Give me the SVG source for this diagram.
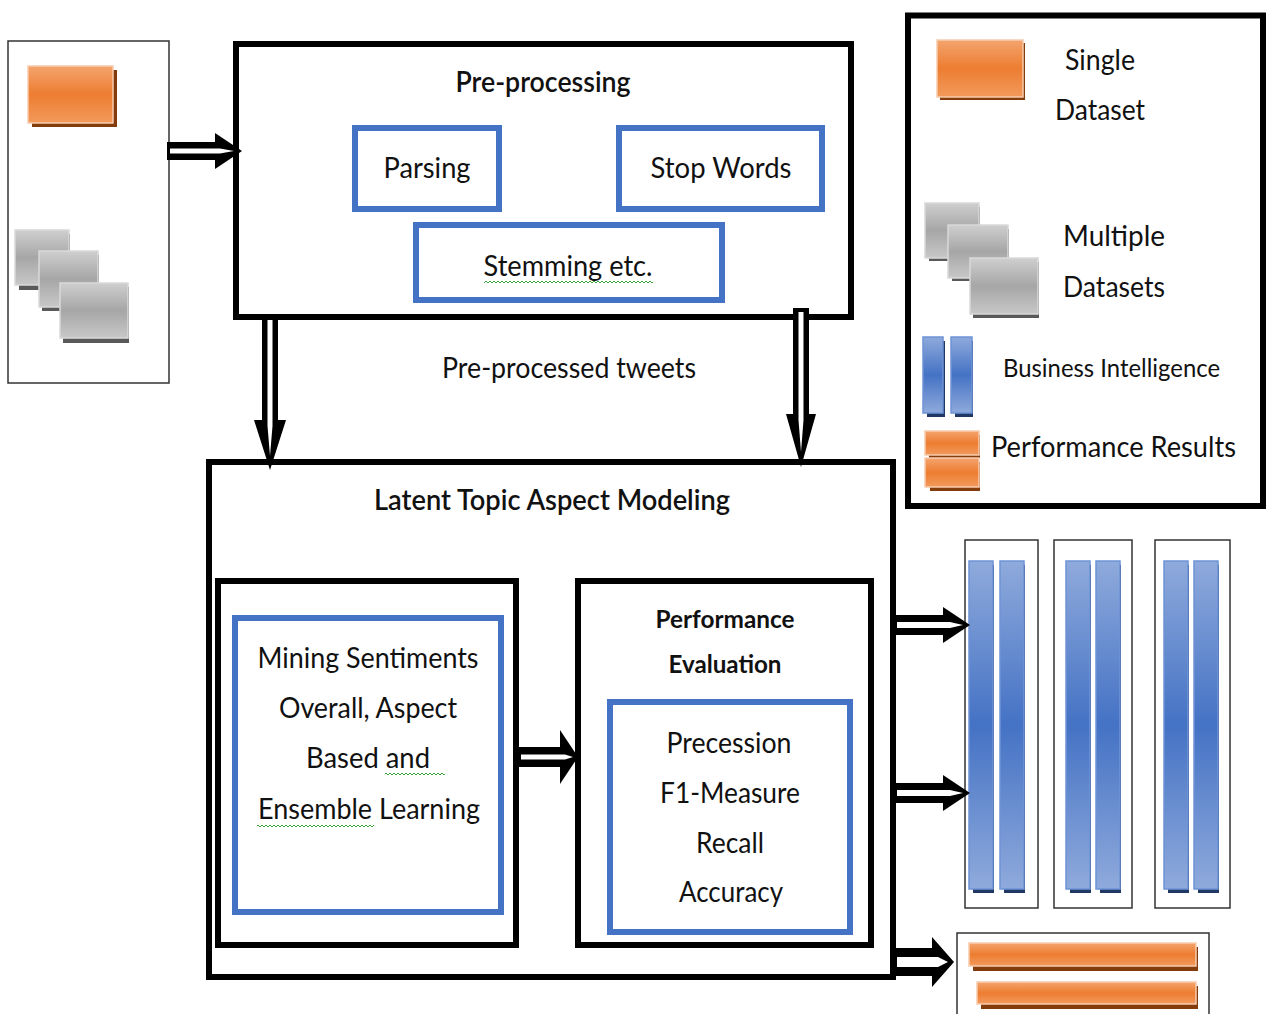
<svg xmlns="http://www.w3.org/2000/svg" width="1266" height="1014" viewBox="0 0 1266 1014">
<style>
  text { font-family: Lato, "Noto Sans", "Liberation Sans", sans-serif; fill: #111; }
  .t { font-size: 28px; text-anchor: middle; }
  .title { font-size: 28px; text-anchor: middle; font-weight: 600; }
  .bold { font-size: 25px; text-anchor: middle; font-weight: 700; }
  .leg { font-size: 29px; }
  .frame { fill: #fff; stroke: #000; stroke-width: 6; }
  .thin { fill: #fff; stroke: #333; stroke-width: 1.5; }
  .blue { fill: #fff; stroke: #4472C4; stroke-width: 6; }
  .or { fill: url(#gOr); stroke: #F8CBAD; stroke-width: 1.5; }
  .orS { fill: #843C0C; }
  .gr { fill: url(#gGr); stroke: #D9D9D9; stroke-width: 1.5; }
  .grS { fill: #595959; }
  .bl { fill: url(#gBl); stroke: #6E93D6; stroke-width: 1.5; }
  .blS { fill: #203864; }
  .ah { fill: #000; }
  .aw { fill: #fff; }
  .wave { fill: url(#wave); }
</style>
<defs>
  <linearGradient id="gOr" x1="0" y1="0" x2="0" y2="1">
    <stop offset="0" stop-color="#F4A46E"/>
    <stop offset="0.5" stop-color="#ED7D31"/>
    <stop offset="1" stop-color="#F29A5C"/>
  </linearGradient>
  <linearGradient id="gGr" x1="0" y1="0" x2="0" y2="1">
    <stop offset="0" stop-color="#CFCFCF"/>
    <stop offset="0.5" stop-color="#A6A6A6"/>
    <stop offset="1" stop-color="#C8C8C8"/>
  </linearGradient>
  <linearGradient id="gBl" x1="0" y1="0" x2="0" y2="1">
    <stop offset="0" stop-color="#8FAADC"/>
    <stop offset="0.5" stop-color="#4472C4"/>
    <stop offset="1" stop-color="#8FAADC"/>
  </linearGradient>
  <pattern id="wave" x="0" y="0" width="4" height="4" patternUnits="userSpaceOnUse">
    <path d="M0,3 L2,1 L4,3" fill="none" stroke="#3BA13B" stroke-width="1"/>
  </pattern>
</defs>
<rect width="1266" height="1014" fill="#fff"/>

<!-- Input datasets panel -->
<g id="input-datasets">
  <rect class="thin" x="8" y="41" width="161" height="342"/>
  <rect class="orS" x="32" y="70" width="85" height="57"/>
  <rect class="or" x="28" y="66" width="85" height="57"/>
  <rect class="grS" x="19" y="234" width="51" height="56"/>
  <rect class="gr" x="15" y="230" width="54" height="55"/>
  <rect class="grS" x="42" y="255" width="57" height="56"/>
  <rect class="gr" x="39" y="251" width="59" height="56"/>
  <rect class="grS" x="63" y="287" width="66" height="56"/>
  <rect class="gr" x="60" y="283" width="68" height="55"/>
</g>

<!-- Pre-processing -->
<g id="preprocessing">
  <rect class="frame" x="236" y="44" width="615" height="273"/>
  <text class="title" x="543" y="92" textLength="175" lengthAdjust="spacingAndGlyphs">Pre-processing</text>
</g>
<g id="parsing">
  <rect class="blue" x="355" y="128" width="144" height="81"/>
  <text class="t" x="427" y="178" textLength="87" lengthAdjust="spacingAndGlyphs">Parsing</text>
</g>
<g id="stop-words">
  <rect class="blue" x="619" y="128" width="203" height="81"/>
  <text class="t" x="721" y="178" textLength="141" lengthAdjust="spacingAndGlyphs">Stop Words</text>
</g>
<g id="stemming">
  <rect class="blue" x="416" y="225" width="306" height="75"/>
  <text class="t" x="568" y="276" textLength="169" lengthAdjust="spacingAndGlyphs">Stemming etc.</text>
  <rect class="wave" x="484" y="280" width="169" height="4"/>
</g>

<text id="label-preprocessed" class="t" x="569" y="378" textLength="254" lengthAdjust="spacingAndGlyphs">Pre-processed tweets</text>

<!-- Latent Topic Aspect Modeling -->
<g id="latent-topic">
  <rect class="frame" x="209" y="462" width="684" height="515"/>
  <text class="title" x="552" y="510" textLength="356" lengthAdjust="spacingAndGlyphs">Latent Topic Aspect Modeling</text>
</g>
<g id="mining">
  <rect class="frame" x="218" y="581" width="298" height="364"/>
  <rect class="blue" x="235" y="618" width="266" height="294"/>
  <text class="t" x="368" y="668" textLength="221" lengthAdjust="spacingAndGlyphs">Mining Sentiments</text>
  <text class="t" x="368" y="718" textLength="178" lengthAdjust="spacingAndGlyphs">Overall, Aspect</text>
  <text class="t" x="368" y="768" textLength="124" lengthAdjust="spacingAndGlyphs">Based and</text>
  <text class="t" x="369" y="819" textLength="222" lengthAdjust="spacingAndGlyphs">Ensemble Learning</text>
  <rect class="wave" x="385" y="772" width="60" height="4"/>
  <rect class="wave" x="257" y="824" width="117" height="4"/>
</g>
<g id="performance-evaluation">
  <rect class="frame" x="578" y="581" width="293" height="364"/>
  <text class="bold" x="725" y="628" textLength="139" lengthAdjust="spacingAndGlyphs">Performance</text>
  <text class="bold" x="725" y="673" textLength="113" lengthAdjust="spacingAndGlyphs">Evaluation</text>
  <rect class="blue" x="610" y="702" width="240" height="230"/>
  <text class="t" x="729" y="753" textLength="125" lengthAdjust="spacingAndGlyphs">Precession</text>
  <text class="t" x="730" y="803" textLength="140" lengthAdjust="spacingAndGlyphs">F1-Measure</text>
  <text class="t" x="730" y="853" textLength="68" lengthAdjust="spacingAndGlyphs">Recall</text>
  <text class="t" x="731" y="902" textLength="104" lengthAdjust="spacingAndGlyphs">Accuracy</text>
</g>

<!-- Business intelligence outputs -->
<g id="bi-1">
  <rect class="thin" x="965" y="540" width="73" height="368"/>
  <rect class="blS" x="973" y="565" width="21" height="328"/>
  <rect class="bl" x="969" y="561" width="24" height="328"/>
  <rect class="blS" x="1004" y="565" width="21" height="328"/>
  <rect class="bl" x="1000" y="561" width="24" height="328"/>
</g>
<g id="bi-2">
  <rect class="thin" x="1054" y="540" width="78" height="368"/>
  <rect class="blS" x="1070" y="565" width="21" height="328"/>
  <rect class="bl" x="1066" y="561" width="24" height="328"/>
  <rect class="blS" x="1100" y="565" width="21" height="328"/>
  <rect class="bl" x="1096" y="561" width="24" height="328"/>
</g>
<g id="bi-3">
  <rect class="thin" x="1155" y="540" width="75" height="368"/>
  <rect class="blS" x="1168" y="565" width="21" height="328"/>
  <rect class="bl" x="1164" y="561" width="24" height="328"/>
  <rect class="blS" x="1198" y="565" width="21" height="328"/>
  <rect class="bl" x="1194" y="561" width="24" height="328"/>
</g>
<g id="performance-results">
  <rect class="thin" x="957" y="933" width="252" height="90"/>
  <rect class="orS" x="973" y="947" width="225" height="24"/>
  <rect class="or" x="969" y="943" width="227" height="23"/>
  <rect class="orS" x="981" y="986" width="217" height="23"/>
  <rect class="or" x="977" y="982" width="219" height="22"/>
</g>

<!-- Legend -->
<g id="legend">
  <rect class="frame" x="908" y="15.5" width="355" height="490.5"/>
  <rect class="orS" x="940" y="43" width="85" height="57"/>
  <rect class="or" x="937" y="40" width="86" height="57"/>
  <text class="leg" x="1100" y="70" text-anchor="middle" textLength="70" lengthAdjust="spacingAndGlyphs">Single</text>
  <text class="leg" x="1100" y="120" text-anchor="middle" textLength="90" lengthAdjust="spacingAndGlyphs">Dataset</text>
  <rect class="grS" x="929" y="207" width="51" height="54"/>
  <rect class="gr" x="925" y="203" width="54" height="55"/>
  <rect class="grS" x="952" y="229" width="57" height="52"/>
  <rect class="gr" x="948" y="225" width="60" height="53"/>
  <rect class="grS" x="973" y="262" width="66" height="56"/>
  <rect class="gr" x="970" y="258" width="68" height="56"/>
  <text class="leg" x="1063" y="246" textLength="102" lengthAdjust="spacingAndGlyphs">Multiple</text>
  <text class="leg" x="1063" y="297" textLength="102" lengthAdjust="spacingAndGlyphs">Datasets</text>
  <rect class="blS" x="927" y="341" width="18" height="76"/>
  <rect class="bl" x="923" y="337" width="20" height="76"/>
  <rect class="blS" x="955" y="341" width="18" height="76"/>
  <rect class="bl" x="951" y="337" width="21" height="76"/>
  <text x="1003" y="377" font-size="25" textLength="217" lengthAdjust="spacingAndGlyphs">Business Intelligence</text>
  <rect class="orS" x="929" y="435" width="51" height="23"/>
  <rect class="or" x="925" y="431" width="54" height="24"/>
  <rect class="orS" x="930" y="462" width="50" height="29"/>
  <rect class="or" x="925" y="458" width="54" height="29"/>
  <text class="leg" x="991" y="457" textLength="245" lengthAdjust="spacingAndGlyphs">Performance Results</text>
</g>

<!-- Connectors -->
<g id="connectors">
  <path class="ah" d="M167,142 H215 V133 L242,151 L215,169 V160 H167 Z"/>
  <path class="aw" d="M170,148.5 H220 L234,151 L220,153.5 H170 Z"/>

  <path class="ah" d="M262,318 V420 H254 L270,470 L286,420 H278 V318 Z"/>
  <path class="aw" d="M267.5,320 V426 L270,456 L272.5,426 V320 Z"/>

  <path class="ah" d="M793,308 V414 H786 L801,467 L816,414 H809 V308 Z"/>
  <path class="aw" d="M798.5,312 V420 L801,452 L803.5,420 V312 Z"/>

  <path class="ah" d="M519,747 H560 V730 L578,757 L560,784 V767 H519 Z"/>
  <path class="aw" d="M521,754.5 H565 L573,757 L565,759.5 H521 Z"/>

  <path class="ah" d="M895,615 H943 V607 L970,625 L943,643 V635 H895 Z"/>
  <path class="aw" d="M897,622 H950 L963,625 L950,628 H897 Z"/>

  <path class="ah" d="M895,783 H943 V775 L970,793 L943,811 V803 H895 Z"/>
  <path class="aw" d="M897,790 H950 L963,793 L950,796 H897 Z"/>

  <path class="ah" d="M895,948 H932 V937 L954,962 L932,987 V976 H895 Z"/>
  <path class="aw" d="M897,957 H938 L948,962 L938,967 H897 Z"/>
</g>
</svg>
